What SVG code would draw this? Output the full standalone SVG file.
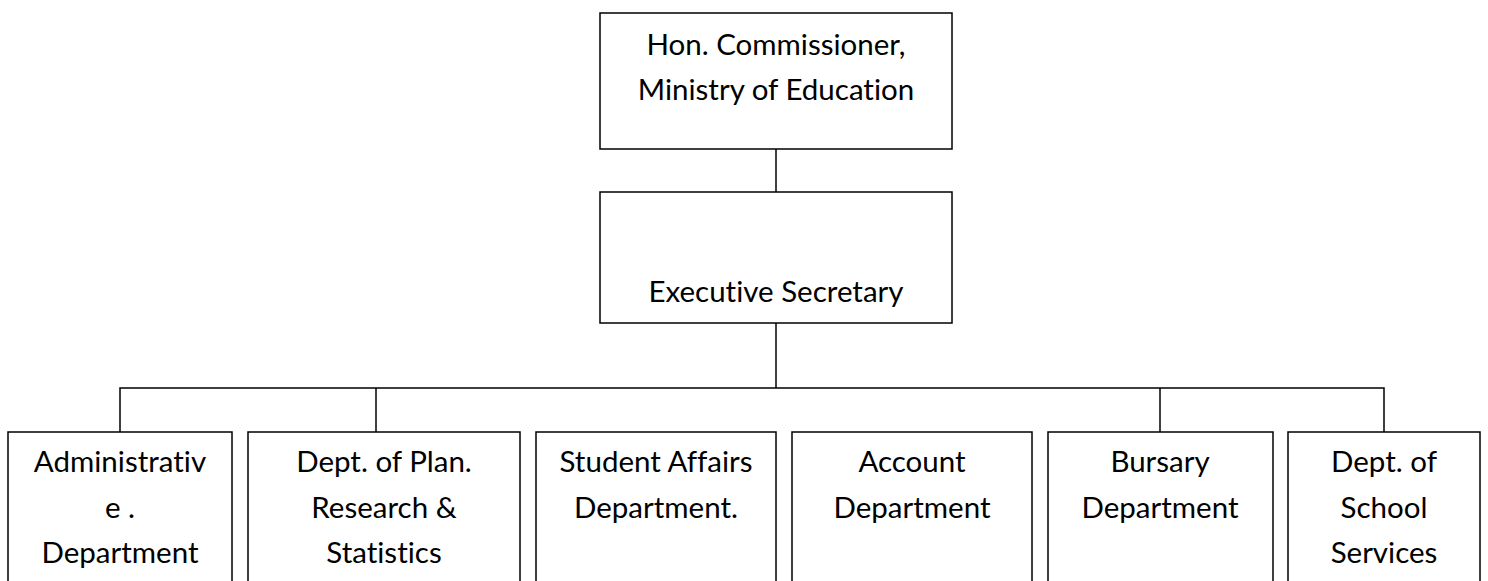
<svg xmlns="http://www.w3.org/2000/svg" width="1488" height="581" viewBox="0 0 1488 581">
<style>
.box{fill:#fff;stroke:#000;stroke-width:1.5}
.ln{fill:none;stroke:#000;stroke-width:1.5}
text{font-family:Lato,"Open Sans","Liberation Sans",sans-serif;font-size:29.5px;fill:#000;text-anchor:middle;font-variant-ligatures:none;font-feature-settings:"liga" 0}
</style>
<rect width="1488" height="581" fill="#fff"/>
<g id="connectors">
<path class="ln" d="M776 149V192"/>
<path class="ln" d="M776 323V388"/>
<path class="ln" d="M120 432V388H1384V432"/>
<path class="ln" d="M376 388V432"/>
<path class="ln" d="M1160 388V432"/>
</g>
<g id="n-commissioner">
<rect class="box" x="600" y="13" width="352" height="136"/>
<text x="776" y="55">Hon. Commissioner,</text>
<text x="776" y="100">Ministry of Education</text>
</g>
<g id="n-exec">
<rect class="box" x="600" y="192" width="352" height="131"/>
<text x="776" y="302">Executive Secretary</text>
</g>
<g id="n-admin">
<rect class="box" x="8" y="432" width="224" height="170"/>
<text x="120" y="472">Administrativ</text>
<text x="120" y="518">e .</text>
<text x="120" y="563">Department</text>
</g>
<g id="n-plan">
<rect class="box" x="248" y="432" width="272" height="170"/>
<text x="384" y="472">Dept. of Plan.</text>
<text x="384" y="518">Research &amp;</text>
<text x="384" y="563">Statistics</text>
</g>
<g id="n-student">
<rect class="box" x="536" y="432" width="240" height="170"/>
<text x="656" y="472">Student Affairs</text>
<text x="656" y="518">Department.</text>
</g>
<g id="n-account">
<rect class="box" x="792" y="432" width="240" height="170"/>
<text x="912" y="472">Account</text>
<text x="912" y="518">Department</text>
</g>
<g id="n-bursary">
<rect class="box" x="1048" y="432" width="225" height="170"/>
<text x="1160" y="472">Bursary</text>
<text x="1160" y="518">Department</text>
</g>
<g id="n-school">
<rect class="box" x="1288" y="432" width="192" height="170"/>
<text x="1384" y="472">Dept. of</text>
<text x="1384" y="518">School</text>
<text x="1384" y="563">Services</text>
</g>
</svg>
